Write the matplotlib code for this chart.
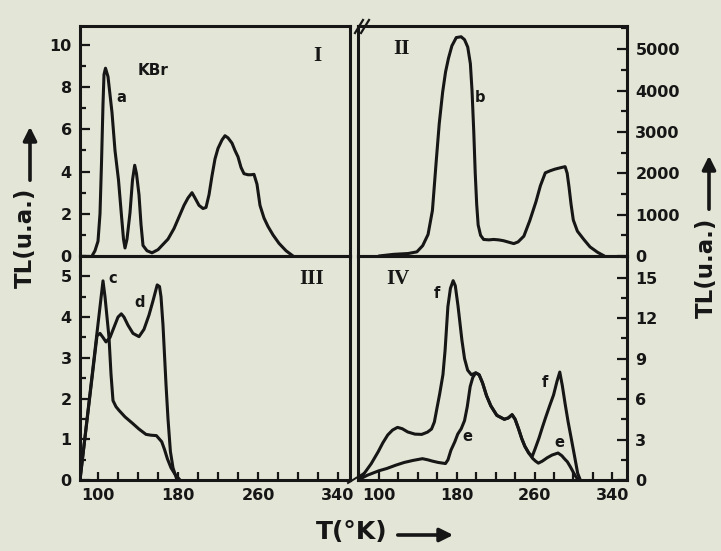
import matplotlib
matplotlib.use("Agg")
import matplotlib.pyplot as plt
from matplotlib.patches import FancyArrowPatch
from matplotlib.lines import Line2D
from matplotlib.ticker import MultipleLocator, FixedLocator

# ---------------- data: TL glow curves of KBr ----------------
# Panel I, curve a
T_a = [94, 97, 100, 102, 103.5, 105, 106, 107.5, 110, 114,
       117, 120.5, 123.5, 125.5, 127, 129, 132, 134.5, 136.7, 138.5,
       141, 143, 145, 149, 154, 160, 165, 170, 176, 181,
       186, 190, 194, 197, 201, 205, 208, 211, 214, 217,
       220, 224, 227, 230, 234, 237, 240, 243, 246, 250,
       253, 256, 259, 262, 266, 270, 275, 281, 288, 295]
TL_a = [0.0, 0.25, 0.7, 2.0, 4.4, 7.2, 8.6, 8.9, 8.5, 6.8,
        5.0, 3.6, 1.9, 0.8, 0.38, 0.8, 2.05, 3.6, 4.3, 3.9,
        2.9, 1.5, 0.5, 0.25, 0.15, 0.3, 0.55, 0.8, 1.3, 1.85,
        2.4, 2.75, 3.0, 2.75, 2.4, 2.25, 2.3, 2.9, 3.8, 4.6,
        5.1, 5.5, 5.7, 5.6, 5.35, 5.0, 4.7, 4.2, 3.9, 3.85,
        3.85, 3.87, 3.4, 2.4, 1.8, 1.4, 1.0, 0.6, 0.25, 0.0]

# Panel II, curve b
T_b = [100, 115, 130, 139, 145, 150.5, 155, 159, 162, 165.5,
       168.5, 171.5, 175, 179.5, 184.5, 188, 191.3, 194, 195.7, 197.5,
       199, 200.5, 202, 204.5, 207.6, 213, 218, 223, 228, 234,
       238.6, 243, 249, 255, 261.4, 266, 271, 276, 281, 286,
       291.4, 293.5, 295.4, 297.5, 299.8, 304, 310.6, 317, 324.7, 331.7]
TL_b = [0, 40, 60, 100, 250, 520, 1100, 2320, 3200, 3960,
        4450, 4780, 5080, 5280, 5300, 5230, 5050, 4650, 4000, 3000,
        2000, 1250, 750, 500, 400, 390, 400, 390, 370, 330,
        300, 340, 480, 850, 1310, 1700, 2010, 2060, 2100, 2130,
        2160, 2000, 1670, 1250, 870, 600, 400, 220, 90, 0]

# Panel III, curves c and d
T_c = [82, 105, 107, 109, 111, 113, 115, 118, 121, 127,
       134.6, 141, 148, 153, 158.4, 163.7, 166.5, 169.4, 173, 177, 182]
TL_c = [0, 4.89, 4.5, 4.0, 3.5, 2.6, 1.95, 1.8, 1.71, 1.55,
        1.39, 1.25, 1.12, 1.1, 1.09, 0.94, 0.75, 0.52, 0.3, 0.14, 0]

T_d = [82, 99, 102, 105, 108, 112, 116, 120, 123.3, 126,
       130, 135, 141, 146, 151, 155, 159.2, 161.5, 163, 165,
       168, 170, 172.4, 175, 179]
TL_d = [0, 3.54, 3.6, 3.5, 3.39, 3.5, 3.75, 4.0, 4.08, 4.0,
        3.8, 3.6, 3.52, 3.7, 4.05, 4.4, 4.79, 4.75, 4.5, 3.8,
        2.35, 1.5, 0.7, 0.3, 0]

# Panel IV, curves e and f
T_f = [78.5, 85, 92, 99.3, 104, 109.1, 114, 119.1, 124, 129.6,
       137, 144, 150, 154.1, 157, 159.6, 162.5, 165.8, 168, 170.9,
       173.5, 176.3, 178.5, 181.3, 185.3, 188, 191.2, 195, 199.5, 203,
       206.5, 210.6, 215, 221.2, 228.9, 233, 236.9, 240, 243.5, 246.8,
       250, 254, 257.6, 261, 264.5, 268, 271.2, 275.5, 279.5, 283,
       285.9, 288.5, 291.5, 294.5, 297.9, 301, 304.3, 307]
TL_f = [0, 0.5, 1.2, 2.1, 2.75, 3.34, 3.7, 3.9, 3.8, 3.56,
        3.4, 3.38, 3.55, 3.78, 4.3, 5.3, 6.4, 7.8, 9.6, 12.85,
        14.2, 14.77, 14.4, 12.9, 10.37, 9.0, 8.14, 7.8, 7.94, 7.8,
        7.2, 6.25, 5.5, 4.79, 4.5, 4.6, 4.84, 4.5, 3.8, 3.07,
        2.5, 2.0, 1.75, 2.4, 3.1, 3.9, 4.6, 5.5, 6.3, 7.3,
        8.0, 7.0, 5.6, 4.3, 3.0, 1.8, 0.5, 0]

T_e = [78.5, 88, 99.8, 108, 117.4, 126, 135, 144.7, 150, 155,
       161, 168.4, 171, 174, 178, 181, 184.6, 188, 190.8, 193.8,
       196.5, 199.5, 203, 206.5, 210.6, 215, 221.2, 228.9, 233, 236.9,
       240, 243.5, 246.8, 250, 254, 258, 261, 263.9, 268, 273,
       278, 284.1, 288, 291, 293.7, 297, 300, 302.4, 305]
TL_e = [0, 0.35, 0.68, 0.85, 1.1, 1.3, 1.45, 1.58, 1.5, 1.4,
        1.3, 1.22, 1.5, 2.2, 2.83, 3.4, 3.8, 4.4, 5.43, 6.92,
        7.6, 7.94, 7.8, 7.2, 6.25, 5.5, 4.79, 4.5, 4.6, 4.84,
        4.5, 3.8, 3.07, 2.5, 2.0, 1.6, 1.4, 1.25, 1.4, 1.65,
        1.85, 2.0, 1.8, 1.55, 1.35, 0.95, 0.55, 0.25, 0]

T_TICKS = [100, 180, 260, 340]

# ---------------- figure ----------------
W, H = 721, 551
PAPER = "#e3e6d6"
INK = "#161616"
LW = 2.2

plt.rcParams["font.family"] = ["DejaVu Sans"]
plt.rcParams["font.weight"] = "bold"

fig = plt.figure(figsize=(W / 100, H / 100), dpi=100, facecolor=PAPER)


def rect(x0, y0, x1, y1):
    return [x0 / W, 1 - y1 / H, (x1 - x0) / W, (y1 - y0) / H]


def fxy(x, y):
    return (x / W, 1 - y / H)


XL, XM1, XM2, XR = 80, 350, 358, 627
YT, YM, YB = 26, 256, 480

axI = fig.add_axes(rect(XL, YT, XM1, YM))
axII = fig.add_axes(rect(XM2, YT, XR, YM))
axIII = fig.add_axes(rect(XL, YM, XM1, YB))
axIV = fig.add_axes(rect(XM2, YM, XR, YB))


def style(ax):
    ax.set_facecolor("none")
    for s in ax.spines.values():
        s.set_linewidth(LW)
        s.set_color(INK)
    ax.tick_params(which="both", direction="in", color=INK, width=1.6,
                   labelsize=11.5, labelcolor=INK, pad=6)
    ax.tick_params(which="major", length=7)
    ax.tick_params(which="minor", length=4.5)


for ax in (axI, axII, axIII, axIV):
    style(ax)

# x ranges
for ax in (axI, axIII):
    ax.set_xlim(82, 352)
for ax in (axII, axIV):
    ax.set_xlim(78.5, 355)

# Panel I
axI.plot(T_a, TL_a, color=INK, lw=LW, solid_capstyle="round")
axI.set_ylim(0, 10.9)
axI.set_xticks([])
axI.yaxis.set_major_locator(MultipleLocator(2))
axI.yaxis.set_minor_locator(MultipleLocator(1))
axI.text(155, 8.8, "KBr", fontsize=11, ha="center", va="center", color=INK)
axI.text(123, 7.5, "a", fontsize=10.5, ha="center", va="center", color=INK)
axI.text(319, 9.5, "I", fontsize=15, family="Liberation Serif",
         ha="center", va="center", color=INK)

# Panel II
axII.plot(T_b, TL_b, color=INK, lw=LW, solid_capstyle="round")
axII.set_ylim(0, 5560)
axII.set_xticks([])
axII.yaxis.tick_right()
axII.yaxis.set_major_locator(MultipleLocator(1000))
axII.yaxis.set_minor_locator(MultipleLocator(500))
axII.tick_params(axis="y", which="both", left=False, right=True)
axII.text(123, 5010, "II", fontsize=15, family="Liberation Serif",
          ha="center", va="center", color=INK)
axII.text(204, 3830, "b", fontsize=10.5, ha="center", va="center", color=INK)

# Panel III
axIII.plot(T_c, TL_c, color=INK, lw=LW, solid_capstyle="round")
axIII.plot(T_d, TL_d, color=INK, lw=LW, solid_capstyle="round")
axIII.set_ylim(0, 5.5)
axIII.yaxis.set_major_locator(MultipleLocator(1))
axIII.yaxis.set_minor_locator(MultipleLocator(0.5))
axIII.text(115, 4.95, "c", fontsize=10.5, ha="center", va="center", color=INK)
axIII.text(142, 4.37, "d", fontsize=10.5, ha="center", va="center", color=INK)
axIII.text(314, 4.93, "III", fontsize=15, family="Liberation Serif",
           ha="center", va="center", color=INK)

# Panel IV
axIV.plot(T_f, TL_f, color=INK, lw=LW, solid_capstyle="round")
axIV.plot(T_e, TL_e, color=INK, lw=LW, solid_capstyle="round")
axIV.set_ylim(0, 16.6)
axIV.yaxis.tick_right()
axIV.yaxis.set_major_locator(MultipleLocator(3))
axIV.yaxis.set_minor_locator(MultipleLocator(1.5))
axIV.tick_params(axis="y", which="both", left=False, right=True)
axIV.text(120, 14.9, "IV", fontsize=15, family="Liberation Serif",
          ha="center", va="center", color=INK)
axIV.text(160, 13.8, "f", fontsize=10.5, ha="center", va="center", color=INK)
axIV.text(191, 3.25, "e", fontsize=10.5, ha="center", va="center", color=INK)
axIV.text(271, 7.2, "f", fontsize=10.5, ha="center", va="center", color=INK)
axIV.text(286, 2.75, "e", fontsize=10.5, ha="center", va="center", color=INK)

# temperature axes of the lower panels
for ax in (axIII, axIV):
    ax.xaxis.set_major_locator(FixedLocator(T_TICKS))
    ax.xaxis.set_minor_locator(MultipleLocator(20))
    ax.tick_params(axis="x", which="both", length=5.5, top=False, bottom=True)

# axis break marks between the two halves
for dx in (0, 6):
    fig.add_artist(Line2D([(XM2 - 3 + dx) / W, (XM2 + 5 + dx) / W],
                          [1 - (YT + 7) / H, 1 - (YT - 6) / H],
                          color=INK, lw=1.6))
fig.add_artist(Line2D([(XM1 - 2) / W, (XM2 + 6) / W],
                      [1 - (YB + 3) / H, 1 - (YB - 7) / H],
                      color=INK, lw=1.4))

# axis titles with arrows
fig.text(*fxy(25, 238), "TL(u.a.)", rotation=90, fontsize=16.5,
         fontweight="bold", ha="center", va="center", color=INK)
fig.add_artist(FancyArrowPatch(fxy(30, 183), fxy(30, 124),
                               transform=fig.transFigure, arrowstyle="-|>",
                               mutation_scale=20, lw=2.6, color=INK))

fig.text(*fxy(706, 268), "TL(u.a.)", rotation=90, fontsize=16.5,
         fontweight="bold", ha="center", va="center", color=INK)
fig.add_artist(FancyArrowPatch(fxy(709, 212), fxy(709, 153),
                               transform=fig.transFigure, arrowstyle="-|>",
                               mutation_scale=20, lw=2.6, color=INK))

fig.text(*fxy(352, 532), "T(°K)", fontsize=18, fontweight="bold",
         ha="center", va="center", color=INK)
fig.add_artist(FancyArrowPatch(fxy(395, 535), fxy(456, 535),
                               transform=fig.transFigure, arrowstyle="-|>",
                               mutation_scale=20, lw=2.6, color=INK))

fig.savefig("out.png", dpi=100, facecolor=PAPER)
